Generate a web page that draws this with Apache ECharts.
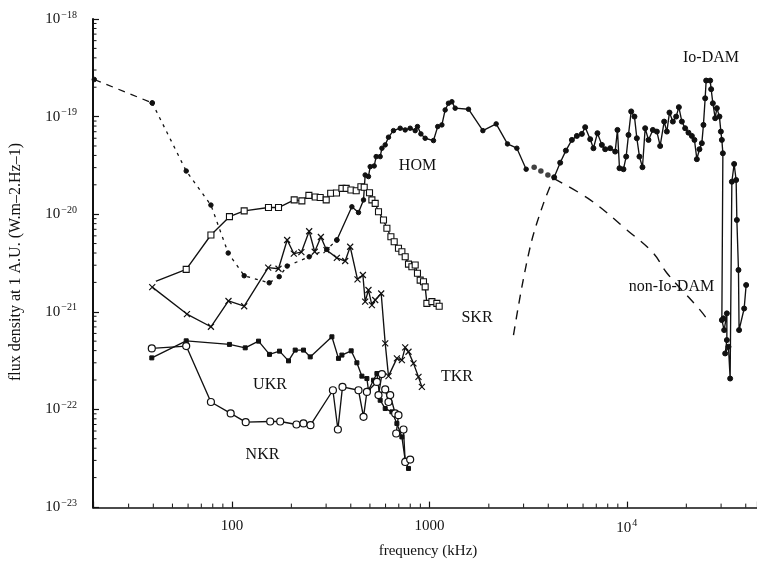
<!DOCTYPE html>
<html>
<head>
<meta charset="utf-8">
<script src="https://cdn.jsdelivr.net/npm/echarts@6/dist/echarts.min.js"></script>
<style>
html,body{margin:0;padding:0;background:#fff;}
#chart{width:757px;height:565px;}
</style>
</head>
<body>
<div id="chart"></div>
<script>
// ---- axis ticks / labels ----
const X_MIN = 19.8, X_MAX = 45600;
const Y_MIN = 0.985e-23, Y_MAX = 1e-18;
const xTickValues = [100, 1000, 10000];
const xTickLabels = ['100', '1000', '{b|10}{s|4}'];
const yTickExponents = [-23, -22, -21, -20, -19, -18];

// ---- data: [frequency kHz, flux density W m^-2 Hz^-1] ----
const HOM_LOW_A = [[20.1, 2.4e-19], [39.5, 1.38e-19]];
const HOM_LOW_B = [[39.5, 1.38e-19], [58.7, 2.77e-20], [78.3, 1.24e-20], [95.8, 4.0e-21], [115.4, 2.34e-21],
  [154.5, 1.98e-21], [173.6, 2.29e-21], [190.5, 2.94e-21], [246.2, 3.66e-21], [302.7, 4.36e-21], [340, 5.44e-21]];
const HOM = [[340, 5.44e-21], [405, 1.19e-20], [437.5, 1.04e-20], [464, 1.40e-20], [473, 2.52e-20], [491.5, 2.43e-20],
  [501.5, 3.07e-20], [525.5, 3.12e-20], [537.8, 3.89e-20], [563.5, 3.89e-20], [575, 4.74e-20], [597.5, 5.13e-20],
  [620.8, 6.15e-20], [658, 7.18e-20], [711.5, 7.6e-20], [754.3, 7.3e-20], [799.4, 7.6e-20], [847.5, 7.18e-20],
  [870.3, 7.9e-20], [905.8, 6.65e-20], [952.1, 6.0e-20], [1049, 5.68e-20], [1102, 7.9e-20], [1157, 8.22e-20],
  [1202, 1.17e-19], [1249, 1.37e-19], [1300, 1.42e-19], [1351, 1.22e-19], [1578, 1.19e-19], [1866, 7.18e-20],
  [2179, 8.42e-20], [2486, 5.25e-20], [2773, 4.74e-20], [3091, 2.89e-20]];
const HOM_DOTS = [[3393, 3.03e-20], [3670, 2.77e-20], [3981, 2.52e-20]];
const IO_DAM = [[4284, 2.39e-20], [4595, 3.37e-20], [4911, 4.48e-20], [5267, 5.77e-20], [5583, 6.34e-20],
  [5919, 6.65e-20], [6151, 7.79e-20], [6521, 5.87e-20], [6773, 4.74e-20], [7096, 6.76e-20], [7471, 5.13e-20],
  [7765, 4.63e-20], [8231, 4.74e-20], [8726, 4.38e-20], [8961, 7.3e-20], [9174, 2.96e-20], [9612, 2.89e-20],
  [9920, 3.89e-20], [10190, 6.49e-20], [10515, 1.13e-19], [10927, 1.0e-19], [11234, 6.0e-20], [11581, 3.89e-20],
  [11995, 3.03e-20], [12379, 7.6e-20], [12865, 5.77e-20], [13540, 7.3e-20], [14188, 7.02e-20], [14743, 5.0e-20],
  [15448, 8.89e-20], [15940, 7.02e-20], [16432, 1.10e-19], [17096, 8.89e-20], [17765, 1.0e-19], [18334, 1.25e-19],
  [18988, 8.89e-20], [19731, 7.6e-20], [20505, 6.85e-20], [21334, 6.34e-20], [21991, 5.77e-20], [22613, 3.66e-20],
  [23310, 4.63e-20], [23970, 5.34e-20], [24420, 8.22e-20], [24916, 1.54e-19], [25205, 2.34e-19], [26410, 2.34e-19],
  [26720, 1.91e-19], [27255, 1.37e-19], [28000, 9.63e-20], [28560, 1.22e-19], [29430, 1.0e-19], [29920, 7.02e-20],
  [30270, 5.77e-20], [30630, 4.21e-20], [30270, 8.22e-22], [30840, 8.56e-22], [31100, 6.49e-22], [32090, 9.63e-22],
  [32090, 5.13e-22], [31460, 3.74e-22], [32690, 4.38e-22], [33340, 2.07e-22], [34010, 2.15e-20], [34930, 3.27e-20],
  [35750, 2.24e-20], [36060, 8.72e-21], [36740, 2.68e-21], [37000, 6.49e-22], [39260, 1.08e-21], [40180, 1.88e-21]];
const NON_IO_RISE = [[2666, 5.77e-22], [2940, 1.8e-21], [3304, 5.44e-21], [3782, 1.29e-20], [4250, 2.33e-20]];
const NON_IO_FALL = [[4250, 2.33e-20], [6521, 1.40e-20], [10000, 6.9e-21], [13590, 4.0e-21], [15940, 2.5e-21],
  [23500, 1.04e-21], [26400, 7.6e-22]];
const SKR = [[39.3, 1.98e-21], [58.7, 2.72e-21], [78.3, 6.12e-21], [97.2, 9.43e-21], [115.4, 1.08e-20],
  [153.2, 1.17e-20], [172.2, 1.17e-20], [206.8, 1.40e-20], [226.1, 1.37e-20], [245.4, 1.56e-20], [264.1, 1.50e-20],
  [280, 1.48e-20], [300.3, 1.40e-20], [316.4, 1.64e-20], [338.5, 1.65e-20], [360.6, 1.84e-20], [379.1, 1.84e-20],
  [400.5, 1.77e-20], [426, 1.74e-20], [450, 1.91e-20], [467.7, 1.89e-20], [497.5, 1.66e-20], [511.6, 1.40e-20],
  [531.6, 1.29e-20], [552.5, 1.06e-20], [585.6, 8.72e-21], [609.3, 7.17e-21], [638.5, 5.88e-21], [663.5, 5.22e-21],
  [697.4, 4.47e-21], [725.7, 4.12e-21], [754.3, 3.66e-21], [783.8, 3.08e-21], [815.5, 2.89e-21], [847.5, 3.01e-21],
  [870.3, 2.48e-21], [898.3, 2.11e-21], [933.5, 2.03e-21], [952.1, 1.80e-21], [971.2, 1.22e-21], [1030, 1.27e-21],
  [1091, 1.22e-21], [1121, 1.14e-21]];
const TKR = [[39.5, 1.79e-21], [59.2, 9.47e-22], [78.3, 7.02e-22], [96.1, 1.29e-21], [115.4, 1.14e-21],
  [152.7, 2.83e-21], [172.2, 2.76e-21], [190.5, 5.44e-21], [205.8, 3.95e-21], [224.8, 4.08e-21], [246.2, 6.68e-21],
  [262.6, 4.12e-21], [282.2, 5.84e-21], [301.3, 4.29e-21], [340, 3.57e-21], [374.7, 3.31e-21], [397.2, 4.64e-21],
  [432.5, 2.15e-21], [460.6, 2.38e-21], [473, 1.27e-21], [491.5, 1.67e-21], [511.6, 1.17e-21], [531.6, 1.32e-21],
  [570.2, 1.54e-21], [597.5, 4.74e-22], [620.8, 2.19e-22], [684.6, 3.33e-22], [725.7, 3.20e-22], [754.3, 4.31e-22],
  [783.8, 3.89e-22], [830.8, 2.96e-22], [880.7, 2.15e-22], [916.2, 1.70e-22]];
const UKR = [[39.3, 3.37e-22], [58.7, 5.04e-22], [97.2, 4.63e-22], [116.8, 4.27e-22], [136.4, 5.0e-22],
  [155, 3.66e-22], [174.2, 3.95e-22], [193.5, 3.14e-22], [209.2, 4.05e-22], [230.4, 4.05e-22], [249.2, 3.45e-22],
  [320.9, 5.54e-22], [346.5, 3.33e-22], [360.6, 3.60e-22], [401.8, 3.98e-22], [429.4, 3.0e-22], [455.2, 2.19e-22],
  [482.6, 2.07e-22], [491.5, 1.57e-22], [521.2, 1.99e-22], [542.3, 2.33e-22], [563.5, 1.24e-22], [597.5, 1.02e-22],
  [645.9, 9.43e-23], [684.6, 7.17e-23], [725.7, 5.22e-23], [754.3, 3.01e-23], [783.8, 2.48e-23]];
const NKR = [[39.3, 4.21e-22], [58.7, 4.45e-22], [78.3, 1.19e-22], [98.6, 9.08e-23], [117.5, 7.39e-23],
  [156.3, 7.51e-23], [175.6, 7.51e-23], [212.3, 7.0e-23], [230.4, 7.17e-23], [250, 6.88e-23], [324.7, 1.57e-22],
  [344.1, 6.22e-23], [363.1, 1.70e-22], [437.5, 1.57e-22], [464, 8.38e-23], [482.6, 1.51e-22], [542.3, 1.91e-22],
  [575, 2.30e-22], [552.5, 1.40e-22], [597.5, 1.60e-22], [620.8, 1.19e-22], [633.2, 1.40e-22], [671.1, 9.08e-23],
  [697.4, 8.72e-23], [679.1, 5.66e-23], [739.4, 6.22e-23], [754.3, 2.89e-23], [799.4, 3.06e-23]];

// ---- helpers ----
const INK = '#111';
const FONT = '"Liberation Serif", "DejaVu Serif", serif';

const xMinor = [];
[10, 100, 1000, 10000].forEach(function (d) {
  for (let k = 2; k <= 9; k++) { const v = k * d; if (v > 25 && v < X_MAX) xMinor.push([v, Y_MIN]); }
});
const yMinor = [];
for (let n = -23; n <= -19; n++) {
  for (let k = 2; k <= 9; k++) yMinor.push([X_MIN, k * Math.pow(10, n)]);
}

function tickSeries(data, isX, len) {
  return {
    type: 'custom', silent: true, clip: false, z: 10,
    data: data,
    renderItem: function (params, api) {
      const p = api.coord([api.value(0), api.value(1)]);
      const shape = isX ? { x1: p[0], y1: p[1], x2: p[0], y2: p[1] - len }
                        : { x1: p[0], y1: p[1], x2: p[0] + len, y2: p[1] };
      return { type: 'line', shape: shape, style: { stroke: INK, lineWidth: 1 } };
    }
  };
}

function lineSeries(data, opts) {
  return Object.assign({
    type: 'line', data: data, symbol: 'circle', symbolSize: 4.5,
    lineStyle: { color: INK, width: 1.35 },
    itemStyle: { color: INK, borderColor: INK, borderWidth: 1 },
    emphasis: { disabled: true }, silent: true, z: 3
  }, opts || {});
}

function nearPow(v, e) { return Math.abs(Math.log10(v) - e) < 1e-3; }

const richY = {
  b: { fontSize: 15, fontFamily: FONT, color: INK },
  s: { fontSize: 10, fontFamily: FONT, color: INK, verticalAlign: 'top', padding: [0, 0, 8, 1] }
};
const richX = {
  b: { fontSize: 15, fontFamily: FONT, color: INK },
  s: { fontSize: 10, fontFamily: FONT, color: INK, verticalAlign: 'top', padding: [0, 0, 8, 1] }
};

function yLabelText(e) { return '{b|10}{s|\u2212' + (-e) + '}'; }

const chart = echarts.init(document.getElementById('chart'), null, { renderer: 'canvas' });
chart.setOption({
  animation: false,
  backgroundColor: '#fff',
  grid: { left: 93, right: 0, top: 19, bottom: 57.4, containLabel: false, outerBoundsMode: 'none' },
  xAxis: {
    type: 'log', logBase: 10, min: X_MIN, max: X_MAX,
    axisLine: { show: true, lineStyle: { color: INK, width: 1.6 } },
    axisTick: { show: true, inside: true, length: 6, lineStyle: { color: INK, width: 1.2 } },
    splitLine: { show: false }, minorTick: { show: false }, minorSplitLine: { show: false },
    axisLabel: {
      show: true, margin: 11, color: INK, fontSize: 15, fontFamily: FONT,
      showMinLabel: true, showMaxLabel: true, hideOverlap: false,
      rich: richX,
      formatter: function (v) {
        for (let i = 0; i < xTickValues.length; i++) if (nearPow(v, Math.log10(xTickValues[i]))) return xTickLabels[i];
        return '';
      }
    }
  },
  yAxis: {
    type: 'log', logBase: 10, min: Y_MIN, max: Y_MAX,
    axisLine: { show: true, lineStyle: { color: INK, width: 2 } },
    axisTick: { show: true, inside: true, length: 6, lineStyle: { color: INK, width: 1.2 } },
    splitLine: { show: false }, minorTick: { show: false }, minorSplitLine: { show: false },
    axisLabel: {
      show: true, margin: 16, color: INK, fontFamily: FONT, hideOverlap: false,
      showMinLabel: true, showMaxLabel: true,
      rich: richY,
      formatter: function (v) {
        for (let i = 0; i < yTickExponents.length; i++) {
          if (nearPow(v, yTickExponents[i])) return yLabelText(yTickExponents[i]);
        }
        return '';
      }
    }
  },
  graphic: [
    { type: 'text', x: 16, y: 262, rotation: Math.PI / 2, silent: true,
      style: { text: 'flux density at 1 A.U. (W.m\u20132.Hz\u20131)', fill: INK, font: '16px ' + FONT, align: 'center', verticalAlign: 'middle' } },
    { type: 'text', x: 428, y: 551, silent: true,
      style: { text: 'frequency (kHz)', fill: INK, font: '15px ' + FONT, align: 'center', verticalAlign: 'middle' } },
    { type: 'text', x: 417.5, y: 166, silent: true, style: { text: 'HOM', fill: INK, font: '16px ' + FONT, align: 'center', verticalAlign: 'middle' } },
    { type: 'text', x: 477, y: 318, silent: true, style: { text: 'SKR', fill: INK, font: '16px ' + FONT, align: 'center', verticalAlign: 'middle' } },
    { type: 'text', x: 457, y: 377, silent: true, style: { text: 'TKR', fill: INK, font: '16px ' + FONT, align: 'center', verticalAlign: 'middle' } },
    { type: 'text', x: 270, y: 384.5, silent: true, style: { text: 'UKR', fill: INK, font: '16px ' + FONT, align: 'center', verticalAlign: 'middle' } },
    { type: 'text', x: 262.5, y: 454.5, silent: true, style: { text: 'NKR', fill: INK, font: '16px ' + FONT, align: 'center', verticalAlign: 'middle' } },
    { type: 'text', x: 671.5, y: 287, silent: true, style: { text: 'non-Io-DAM', fill: INK, font: '16px ' + FONT, align: 'center', verticalAlign: 'middle' } },
    { type: 'text', x: 711, y: 58, silent: true, style: { text: 'Io-DAM', fill: INK, font: '16px ' + FONT, align: 'center', verticalAlign: 'middle' } }
  ],
  series: [
    lineSeries(HOM_LOW_A, { lineStyle: { color: INK, width: 1.3, type: [7, 6] } }),
    lineSeries(HOM_LOW_B, { lineStyle: { color: INK, width: 1.3, type: [3, 5] } }),
    lineSeries(HOM, {}),
    { type: 'scatter', data: HOM_DOTS, symbol: 'circle', symbolSize: 5.5, itemStyle: { color: INK }, silent: true, z: 3 },
    lineSeries(IO_DAM, { symbolSize: 5 }),
    lineSeries(NON_IO_RISE, { symbol: 'none', smooth: 0.3, lineStyle: { color: INK, width: 1.4, type: [9, 7] } }),
    lineSeries(NON_IO_FALL, { symbol: 'none', smooth: 0.4, lineStyle: { color: INK, width: 1.4, type: [10, 8] } }),
    lineSeries(SKR.map(function (p, i) { return i === 0 ? { value: p, symbol: 'emptyCircle', symbolSize: 7 } : p; }),
      { symbol: 'rect', symbolSize: 6, itemStyle: { color: '#fff', borderColor: INK, borderWidth: 1.1 }, z: 4 }),
    lineSeries(TKR, { symbol: 'path://M0,0L10,10M10,0L0,10', symbolSize: 6,
      itemStyle: { color: INK, borderColor: INK, borderWidth: 1.2 }, z: 4 }),
    lineSeries(UKR, { symbol: 'rect', symbolSize: 4, z: 4 }),
    lineSeries(NKR, { symbol: 'circle', symbolSize: 7, itemStyle: { color: '#fff', borderColor: INK, borderWidth: 1.2 }, z: 5 }),
    tickSeries(xMinor, true, 4),
    tickSeries(yMinor, false, 3.5)
  ]
});
</script>
</body>
</html>
